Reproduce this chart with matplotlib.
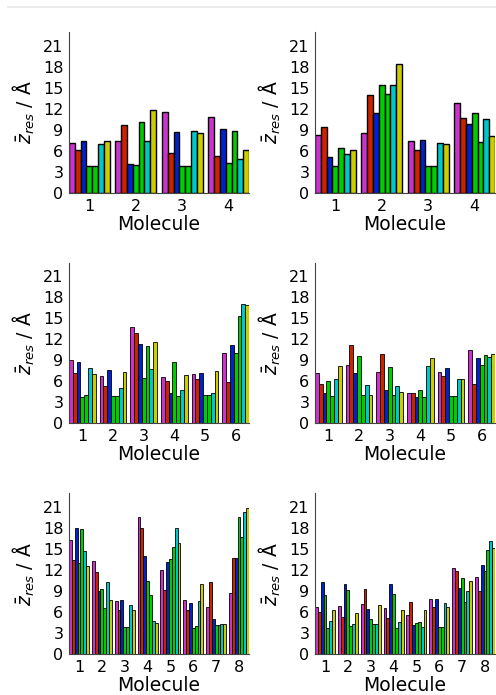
import numpy as np
import matplotlib
matplotlib.use("Agg")
import matplotlib.pyplot as plt
from matplotlib.lines import Line2D

# bar colours, one per series within a molecule group
bar_colors = ["#cc33cc", "#cc2200", "#0022cc", "#00cc00", "#00cc00", "#00c8c8", "#cccc00"]

# panel data: one row per molecule, 7 values each
panel_a = [
    [7.1, 6.1, 7.5, 3.9, 3.9, 7.0, 7.5],
    [7.4, 9.7, 4.1, 4.0, 10.1, 7.5, 11.8],
    [11.6, 5.7, 8.7, 3.9, 3.9, 8.8, 8.6],
    [10.9, 5.3, 9.1, 4.3, 8.8, 4.9, 6.2],
]
panel_b = [
    [8.3, 9.4, 5.1, 3.9, 6.4, 5.6, 6.1],
    [8.6, 14.0, 11.4, 15.5, 14.1, 15.4, 18.5],
    [7.4, 6.2, 7.6, 3.8, 3.8, 7.2, 7.0],
    [12.8, 10.7, 9.8, 11.5, 7.3, 10.6, 8.1],
]
panel_c = [
    [9.0, 7.2, 8.7, 3.8, 4.0, 7.9, 7.1],
    [6.7, 5.4, 7.6, 3.9, 3.9, 5.0, 7.4],
    [13.8, 12.9, 11.3, 6.5, 11.1, 7.7, 11.7],
    [6.6, 6.0, 4.4, 8.7, 3.9, 4.8, 6.9],
    [7.0, 6.4, 7.2, 4.1, 4.0, 4.4, 7.5],
    [10.1, 5.9, 11.2, 10.1, 15.3, 17.1, 16.9],
]
panel_d = [
    [7.2, 5.6, 4.4, 6.0, 3.9, 6.4, 8.2],
    [8.3, 11.2, 7.2, 9.6, 4.0, 5.5, 4.0],
    [7.4, 9.9, 4.8, 8.1, 4.0, 5.4, 4.5],
    [4.3, 4.4, 3.8, 4.8, 3.8, 8.2, 9.3],
    [7.3, 6.7, 7.9, 3.9, 3.9, 6.3, 6.4],
    [10.5, 5.6, 9.3, 8.4, 9.7, 9.5, 9.9],
]
panel_e = [
    [16.3, 13.5, 18.0, 13.0, 17.9, 14.7, 12.6],
    [13.3, 11.8, 9.1, 9.4, 6.6, 10.4, 7.8],
    [7.6, 6.3, 7.8, 3.9, 3.9, 7.1, 6.4],
    [19.6, 18.0, 14.1, 10.5, 8.5, 4.7, 4.5],
    [12.0, 9.2, 13.2, 13.6, 15.3, 18.0, 15.9],
    [7.7, 6.4, 7.3, 3.8, 4.0, 7.6, 10.0],
    [6.7, 10.4, 5.1, 4.2, 4.2, 4.3, 4.3],
    [8.8, 13.7, 13.7, 19.6, 16.7, 20.3, 20.9],
]
panel_f = [
    [6.7, 6.1, 10.3, 8.5, 3.7, 4.7, 6.4],
    [6.9, 5.3, 10.0, 9.2, 4.0, 4.4, 5.9],
    [7.2, 9.4, 6.5, 5.1, 4.4, 4.4, 7.0],
    [6.6, 5.2, 10.0, 8.6, 3.8, 4.6, 6.3],
    [5.6, 7.5, 4.2, 4.5, 4.6, 3.9, 6.3],
    [7.9, 6.7, 7.9, 3.9, 3.9, 7.4, 6.8],
    [12.3, 11.9, 9.5, 10.9, 7.5, 9.1, 10.5],
    [11.0, 9.1, 12.8, 11.9, 14.9, 16.2, 15.2],
]
panels = [panel_a, panel_b, panel_c, panel_d, panel_e, panel_f]
y_ticks = [0, 3, 6, 9, 12, 15, 18, 21]

W, H = 496, 695
fig = plt.figure(figsize=(W / 100, H / 100), dpi=100)

# faint border line at the top of the page
fig.add_artist(Line2D([8 / W, 1], [1 - 7 / H, 1 - 7 / H], color="#e6e6e6", lw=1.2))

col_x = [69, 315]
row_y = [(32, 193), (262.5, 423.3), (493.3, 654.3)]
ax_w = 180
bw = 0.125

for k, data in enumerate(panels):
    r, c = divmod(k, 2)
    top, bot = row_y[r]
    ax = fig.add_axes([col_x[c] / W, 1 - bot / H, ax_w / W, (bot - top) / H])
    vals = np.array(data)
    n = vals.shape[0]
    x = np.arange(1, n + 1)
    lw = 1.0 if r == 0 else 0.6
    for i in range(vals.shape[1]):
        ax.bar(x + (i - 3) * bw, vals[:, i], width=bw, color=bar_colors[i],
               edgecolor="black", linewidth=lw)
    ax.set_xlim(1 - 3.5 * bw, n + 3.5 * bw)
    ax.set_ylim(0, 23)
    ax.set_xticks(x)
    ax.set_yticks(y_ticks)
    ax.tick_params(length=0, labelsize=11.5, pad=4)
    for s in ["top", "right"]:
        ax.spines[s].set_visible(False)
    for s in ["left", "bottom"]:
        ax.spines[s].set_color("#444444")
        ax.spines[s].set_linewidth(0.8)
    ax.set_xlabel("Molecule", fontsize=13.5, labelpad=1)
    ax.set_ylabel(r"$\bar{z}_{res}$ / Å", fontsize=13.5, labelpad=4)

fig.savefig("out.png", dpi=100)
